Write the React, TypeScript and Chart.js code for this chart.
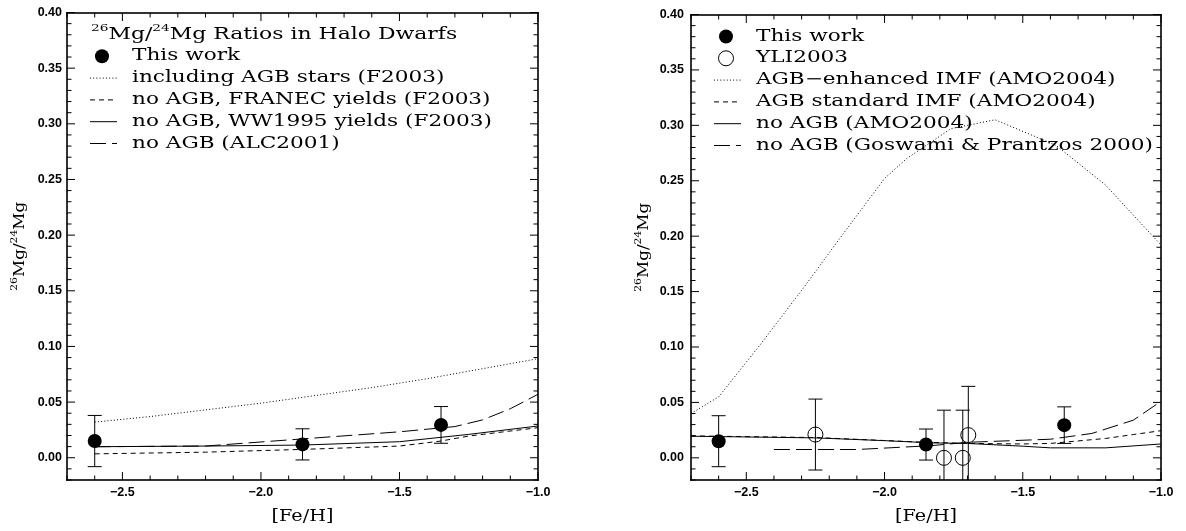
import React, { useEffect, useRef } from 'react';
import { Chart, registerables } from 'chart.js';

Chart.register(...registerables);

// ---------- axis ticks ----------
const xTickValues = [-2.5, -2.0, -1.5, -1.0];
const yTickValues = [0.0, 0.05, 0.1, 0.15, 0.2, 0.25, 0.3, 0.35, 0.4];

// ---------- observations ----------
const thisWorkFeH = [-2.6, -1.85, -1.35];
const thisWorkRatio = [0.015, 0.012, 0.0295];
const thisWorkErr = [0.023, 0.014, 0.0165];

const yliFeH = [-2.25, -1.785, -1.717, -1.697];
const yliRatio = [0.021, 0.0, 0.0, 0.0205];
const yliErr = [0.032, 0.043, 0.043, 0.044];

// ---------- left panel models ----------
const f03AgbFeH = [-2.6, -2.4, -2.2, -2.0, -1.8, -1.6, -1.4, -1.2, -1.0];
const f03AgbRatio = [0.032, 0.037, 0.043, 0.049, 0.056, 0.063, 0.071, 0.08, 0.089];

const franecFeH = [-2.6, -2.2, -1.85, -1.5, -1.35, -1.25, -1.0];
const franecRatio = [0.0035, 0.005, 0.0075, 0.0105, 0.015, 0.0195, 0.027];

const ww95FeH = [-2.6, -2.2, -1.85, -1.5, -1.25, -1.0];
const ww95Ratio = [0.0099, 0.0105, 0.0114, 0.0144, 0.021, 0.0285];

const alcFeH = [-2.6, -2.2, -1.9, -1.5, -1.3, -1.2, -1.1, -1.0];
const alcRatio = [0.0099, 0.0105, 0.016, 0.0233, 0.028, 0.034, 0.044, 0.057];

// ---------- right panel models ----------
const amoEnhFeH = [-2.7, -2.6, -2.45, -2.3, -2.15, -2.0, -1.92, -1.76, -1.6, -1.38, -1.2, -1.0];
const amoEnhRatio = [0.04, 0.055, 0.102, 0.151, 0.202, 0.252, 0.27, 0.297, 0.305, 0.282, 0.246, 0.192];

const amoStdFeH = [-2.7, -2.25, -1.85, -1.7, -1.5, -1.4, -1.2, -1.1, -1.0];
const amoStdRatio = [0.0198, 0.0183, 0.014, 0.013, 0.0125, 0.013, 0.0175, 0.021, 0.0245];

const amoNoFeH = [-2.7, -2.25, -2.0, -1.83, -1.7, -1.5, -1.4, -1.2, -1.0];
const amoNoRatio = [0.0195, 0.018, 0.0155, 0.0135, 0.013, 0.0105, 0.009, 0.009, 0.0125];

const gpFeH = [-2.4, -2.1, -1.83, -1.7, -1.4, -1.25, -1.1, -1.0];
const gpRatio = [0.0075, 0.0075, 0.011, 0.014, 0.0168, 0.022, 0.034, 0.051];

// ---------- texts ----------
const ratioTitle: [string, boolean][] = [['26', true], ['Mg/', false], ['24', true], ['Mg', false]];
const leftLegendTitle: [string, boolean][] = [['26', true], ['Mg/', false], ['24', true], ['Mg Ratios in Halo Dwarfs', false]];
const xTitle = '[Fe/H]';

const SERIF = "'DejaVu Serif', serif";
const SANS = "'Liberation Sans', Arial, sans-serif";

const pts = (xs: number[], ys: number[]) => xs.map((x, i) => ({ x, y: ys[i] }));

const DOT = [1, 2.2];
const SHORT = [5, 4];
const LONG = [16, 6];

const lineDs = (label: string, xs: number[], ys: number[], dash: number[]) => ({
  label,
  data: pts(xs, ys),
  showLine: true,
  borderColor: '#000',
  borderWidth: 1,
  borderDash: dash,
  pointRadius: 0,
  pointHoverRadius: 0,
  fill: false,
  tension: 0,
});

const thisWorkDs = () => ({
  label: 'This work',
  data: pts(thisWorkFeH, thisWorkRatio),
  errors: thisWorkErr,
  showLine: false,
  pointRadius: 7,
  pointBackgroundColor: '#000',
  pointBorderColor: '#000',
  pointBorderWidth: 0,
  pointHoverRadius: 7,
});

const yliDs = () => ({
  label: 'YLI2003',
  data: pts(yliFeH, yliRatio),
  errors: yliErr,
  showLine: false,
  pointRadius: 7.5,
  pointBackgroundColor: 'rgba(0,0,0,0)',
  pointBorderColor: '#000',
  pointBorderWidth: 1,
  pointHoverRadius: 7.5,
});

function drawSegs(
  ctx: CanvasRenderingContext2D,
  segs: [string, boolean][],
  size: number,
  supSize: number,
  sx: number,
  align: 'left' | 'center'
) {
  ctx.scale(sx, 1);
  ctx.textBaseline = 'middle';
  ctx.textAlign = 'left';
  let total = 0;
  const widths = segs.map(([t, sup]) => {
    ctx.font = `${sup ? supSize : size}px ${SERIF}`;
    const w = ctx.measureText(t).width;
    total += w;
    return w;
  });
  let cur = align === 'center' ? -total / 2 : 0;
  segs.forEach(([t, sup], i) => {
    ctx.font = `${sup ? supSize : size}px ${SERIF}`;
    ctx.fillText(t, cur, sup ? -size * 0.36 : 0);
    cur += widths[i];
  });
}

function resetStroke(ctx: CanvasRenderingContext2D, w: number) {
  ctx.setLineDash([]);
  ctx.lineDashOffset = 0;
  ctx.globalAlpha = 1;
  ctx.globalCompositeOperation = 'source-over';
  ctx.strokeStyle = '#000000';
  ctx.lineWidth = w;
  ctx.lineCap = 'butt';
}

function drawFrame(chart: any) {
  const { ctx, chartArea: a, scales } = chart;
  const xs = scales.x;
  const ys = scales.y;
  ctx.save();
  ctx.globalAlpha = 1;
  ctx.globalCompositeOperation = 'source-over';
  ctx.fillStyle = '#000000';
  const L = Math.round(a.left);
  const R = Math.round(a.right);
  const T = Math.round(a.top);
  const B = Math.round(a.bottom);
  const w = 1.6;
  // frame as filled rectangles
  ctx.fillRect(L - w / 2, T - w / 2, w, B - T + w);
  ctx.fillRect(R - w / 2, T - w / 2, w, B - T + w);
  ctx.fillRect(L - w / 2, T - w / 2, R - L + w, w);
  ctx.fillRect(L - w / 2, B - w / 2, R - L + w, w);
  // inward ticks
  for (let k = -27; k <= -10; k++) {
    const px = xs.getPixelForValue(k / 10);
    const len = k % 5 === 0 ? 8 : 4.5;
    ctx.fillRect(px - 0.5, B - len, 1, len);
    ctx.fillRect(px - 0.5, T, 1, len);
  }
  for (let k = -2; k <= 40; k++) {
    const py = ys.getPixelForValue(k / 100);
    const len = k % 5 === 0 ? 8 : 4.5;
    ctx.fillRect(L, py - 0.5, len, 1);
    ctx.fillRect(R - len, py - 0.5, len, 1);
  }
  ctx.restore();
}

const decorPlugin = {
  id: 'panelDecor',
  beforeDatasetsDraw(chart: any) {
    const { ctx, chartArea: a, scales } = chart;
    ctx.save();
    ctx.beginPath();
    ctx.rect(a.left, a.top, a.right - a.left, a.bottom - a.top);
    ctx.clip();
    resetStroke(ctx, 1);
    chart.data.datasets.forEach((ds: any) => {
      if (!ds.errors) return;
      ds.data.forEach((p: any, i: number) => {
        const e = ds.errors[i];
        const px = scales.x.getPixelForValue(p.x);
        const top = scales.y.getPixelForValue(p.y + e);
        const bot = scales.y.getPixelForValue(p.y - e);
        ctx.beginPath();
        ctx.moveTo(px, top);
        ctx.lineTo(px, bot);
        ctx.moveTo(px - 7, top);
        ctx.lineTo(px + 7, top);
        ctx.moveTo(px - 7, bot);
        ctx.lineTo(px + 7, bot);
        ctx.stroke();
      });
    });
    ctx.restore();
  },
  afterDraw(chart: any, _args: any, opts: any) {
    const { ctx, chartArea: a } = chart;
    ctx.save();
    ctx.fillStyle = '#000';

    // x title
    ctx.save();
    ctx.translate((a.left + a.right) / 2, 517);
    drawSegs(ctx, [[xTitle, false]], 16, 10, 1.2, 'center');
    ctx.restore();

    // y title
    ctx.save();
    ctx.translate(a.left - 47, (a.top + a.bottom) / 2);
    ctx.rotate(-Math.PI / 2);
    drawSegs(ctx, ratioTitle, 14, 9, 1.2, 'center');
    ctx.restore();

    // legend
    const rowH = 21.8;
    let row = 0;
    const y0 = a.top + 22;
    if (opts.title) {
      ctx.save();
      ctx.translate(a.left + 24, y0);
      drawSegs(ctx, opts.title, 16, 10, 1.37, 'left');
      ctx.restore();
      row = 1;
    }
    chart.data.datasets.forEach((ds: any) => {
      const y = y0 + row * rowH;
      ctx.save();
      if (ds.showLine === false) {
        ctx.beginPath();
        ctx.arc(a.left + 35, y, ds.pointRadius, 0, Math.PI * 2);
        if (ds.pointBackgroundColor !== 'rgba(0,0,0,0)') {
          ctx.fillStyle = ds.pointBackgroundColor;
          ctx.fill();
        } else {
          resetStroke(ctx, ds.pointBorderWidth);
          ctx.stroke();
        }
      } else {
        resetStroke(ctx, 1);
        ctx.setLineDash(ds.borderDash || []);
        ctx.beginPath();
        ctx.moveTo(a.left + 23, y);
        ctx.lineTo(a.left + 50, y);
        ctx.stroke();
      }
      ctx.restore();
      ctx.save();
      ctx.fillStyle = '#000';
      ctx.translate(a.left + 65, y);
      drawSegs(ctx, [[ds.label, false]], 16, 10, 1.35, 'left');
      ctx.restore();
      row++;
    });
    ctx.restore();

    drawFrame(chart);
  },
};

function makeConfig(datasets: any[], leftW: number, padR: number, labelPad: number, title: any) {
  return {
    type: 'scatter',
    data: { datasets },
    options: {
      animation: false,
      responsive: false,
      events: [],
      layout: { padding: { top: 12, right: padR, left: 0, bottom: 0 } },
      scales: {
        x: {
          type: 'linear',
          min: -2.7,
          max: -1.0,
          afterBuildTicks: (s: any) => {
            s.ticks = xTickValues.map((v) => ({ value: v }));
          },
          afterFit: (s: any) => {
            s.height = 51;
          },
          grid: { display: false, drawTicks: false },
          border: { display: false },
          ticks: {
            padding: 5,
            autoSkip: false,
            maxRotation: 0,
            color: '#000',
            font: { family: SANS, size: 12.5, weight: 'bold' },
            callback: (v: number) => (v < 0 ? '\u2212' : '') + Math.abs(v).toFixed(1),
          },
        },
        y: {
          type: 'linear',
          min: -0.02,
          max: 0.4,
          afterBuildTicks: (s: any) => {
            s.ticks = yTickValues.map((v) => ({ value: v }));
          },
          afterFit: (s: any) => {
            s.width = leftW;
          },
          grid: { display: false, drawTicks: false },
          border: { display: false },
          ticks: {
            padding: labelPad,
            autoSkip: false,
            color: '#000',
            font: { family: SANS, size: 12.5, weight: 'bold' },
            callback: (v: number) => v.toFixed(2),
          },
        },
      },
      plugins: {
        legend: { display: false },
        tooltip: { enabled: false },
        panelDecor: { title },
      },
    },
    plugins: [decorPlugin],
  };
}

const leftConfig = () =>
  makeConfig(
    [
      thisWorkDs(),
      lineDs('including AGB stars (F2003)', f03AgbFeH, f03AgbRatio, DOT),
      lineDs('no AGB, FRANEC yields (F2003)', franecFeH, franecRatio, SHORT),
      lineDs('no AGB, WW1995 yields (F2003)', ww95FeH, ww95Ratio, []),
      lineDs('no AGB (ALC2001)', alcFeH, alcRatio, LONG),
    ],
    67,
    55,
    5,
    leftLegendTitle
  );

const rightConfig = () =>
  makeConfig(
    [
      thisWorkDs(),
      yliDs(),
      lineDs('AGB\u2212enhanced IMF (AMO2004)', amoEnhFeH, amoEnhRatio, DOT),
      lineDs('AGB standard IMF (AMO2004)', amoStdFeH, amoStdRatio, SHORT),
      lineDs('no AGB (AMO2004)', amoNoFeH, amoNoRatio, []),
      lineDs('no AGB (Goswami & Prantzos 2000)', gpFeH, gpRatio, LONG),
    ],
    98,
    25,
    7,
    null
  );

function Panel({ config, left }: { config: () => any; left: number }) {
  const ref = useRef<HTMLCanvasElement | null>(null);
  useEffect(() => {
    if (!ref.current) return;
    const chart = new Chart(ref.current, config());
    return () => chart.destroy();
  }, []);
  return (
    <canvas
      ref={ref}
      width={593}
      height={531}
      style={{ position: 'absolute', left, top: 0, width: 593, height: 531 }}
    />
  );
}

export default function App() {
  return (
    <div style={{ position: 'absolute', left: 0, top: 0, width: 1186, height: 531, background: '#fff', overflow: 'hidden' }}>
      <Panel config={leftConfig} left={0} />
      <Panel config={rightConfig} left={593} />
    </div>
  );
}
